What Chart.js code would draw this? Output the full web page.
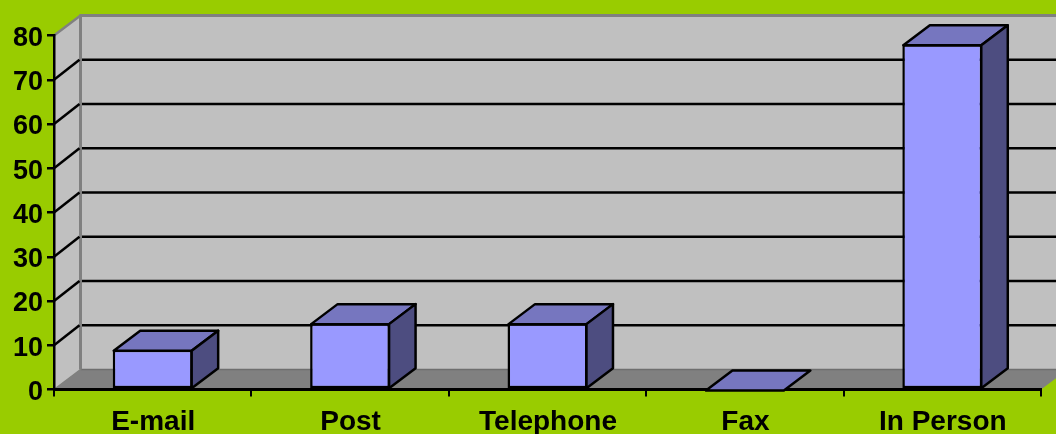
<!DOCTYPE html>
<html><head><meta charset="utf-8">
<style>html,body{margin:0;padding:0;background:#99CC00;overflow:hidden}canvas{display:block}</style>
<script src="https://cdn.jsdelivr.net/npm/chart.js@4"></script></head>
<body><canvas id="c" width="1056" height="434" style="width:1056px;height:434px"></canvas>
<script>
const categories = ["E-mail","Post","Telephone","Fax","In Person"];
const responses = [9,15,15,0,78];
const yTicks = [0,10,20,30,40,50,60,70,80];
const depth = {dx:26.5, dy:-20};
const colors = {bg:"#99CC00",wall:"#C0C0C0",floor:"#808080",edge:"#808080",front:"#9999FF",top:"#7676BF",side:"#4D4D80",line:"#000000"};

function poly(ctx,pts,fill,stroke,lw){
  ctx.beginPath();
  pts.forEach((p,i)=>i?ctx.lineTo(p[0],p[1]):ctx.moveTo(p[0],p[1]));
  ctx.closePath();
  if(fill){ctx.fillStyle=fill;ctx.fill();}
  if(stroke){ctx.strokeStyle=stroke;ctx.lineWidth=lw;ctx.lineJoin="round";ctx.stroke();}
}
function seg(ctx,x1,y1,x2,y2,c,lw){ctx.beginPath();ctx.moveTo(x1,y1);ctx.lineTo(x2,y2);ctx.strokeStyle=c;ctx.lineWidth=lw;ctx.stroke();}

const walls3d = {
  id:"walls3d",
  beforeDraw(chart){
    const {ctx,chartArea:a,scales:{y}}=chart, dx=depth.dx, dy=depth.dy;
    const bl=a.left+dx, tp=a.top+dy, fl=a.bottom+dy, br=a.right+dx;
    ctx.save();
    poly(ctx,[[bl,tp],[br,tp],[br,fl],[bl,fl]],colors.wall);
    poly(ctx,[[a.left,a.top],[bl,tp],[bl,fl],[a.left,a.bottom]],colors.wall);
    poly(ctx,[[a.left,a.bottom],[a.right,a.bottom],[br,fl],[bl,fl]],colors.floor);
    seg(ctx,bl,fl,br,fl,"#6E6E6E",1.5);
    seg(ctx,a.left,a.bottom,bl,fl,colors.edge,1.5);
    seg(ctx,a.left,a.top,bl,tp,colors.edge,2.5);
    seg(ctx,bl-1,tp,br,tp,colors.edge,3);
    seg(ctx,bl,tp,bl,fl,colors.edge,3);
    yTicks.forEach(v=>{
      if(v===yTicks[0]||v===yTicks[yTicks.length-1])return;
      const py=y.getPixelForValue(v);
      seg(ctx,a.left,py,bl-1,py+dy,colors.line,2.5);
      seg(ctx,bl+1.5,py+dy,br,py+dy,colors.line,2.5);
    });
    ctx.restore();
  },
  afterDatasetsDraw(chart){
    const {ctx}=chart, dx=depth.dx, dy=depth.dy;
    ctx.save();
    chart.getDatasetMeta(0).data.forEach(b=>{
      const l=b.x-b.width/2+1, r=b.x+b.width/2-1, t=b.y+1, base=b.base;
      poly(ctx,[[l,t],[r,t],[r+dx,t+dy],[l+dx,t+dy]],colors.top,colors.line,2.5);
      if(base-t>0.5){
        poly(ctx,[[r,t],[r+dx,t+dy],[r+dx,base+dy],[r,base]],colors.side,colors.line,2.5);
      }
    });
    ctx.restore();
  }
};

new Chart(document.getElementById("c"),{
  type:"bar",
  data:{labels:categories,datasets:[{
    data:responses,backgroundColor:colors.front,borderColor:colors.line,borderWidth:2.5,borderSkipped:false,
    categoryPercentage:1,barPercentage:0.405
  }]},
  plugins:[walls3d],
  options:{
    responsive:false,animation:false,devicePixelRatio:1,
    layout:{padding:{top:35.5,right:15,left:0,bottom:0}},
    plugins:{legend:{display:false},title:{display:false},tooltip:{enabled:false}},
    scales:{
      x:{
        afterFit(s){s.height=44.5;},
        grid:{display:true,drawOnChartArea:false,drawTicks:true,tickLength:7,color:"#000",lineWidth:2,offset:true},
        border:{display:true,color:"#000",width:3},
        ticks:{color:"#000",font:{family:"Liberation Sans",weight:"bold",size:28},padding:9,labelOffset:0.5,maxRotation:0,autoSkip:false}
      },
      y:{
        min:0,max:80,
        afterFit(s){s.width=54;},
        afterBuildTicks(s){s.ticks=yTicks.map(v=>({value:v}));},
        grid:{display:true,drawOnChartArea:false,drawTicks:true,tickLength:7,color:"#000",lineWidth:2.5},
        border:{display:true,color:"#000",width:2.5},
        ticks:{color:"#000",font:{family:"Liberation Sans",weight:"bold",size:27},padding:4,labelOffset:3}
      }
    }
  }
});
</script></body></html>
